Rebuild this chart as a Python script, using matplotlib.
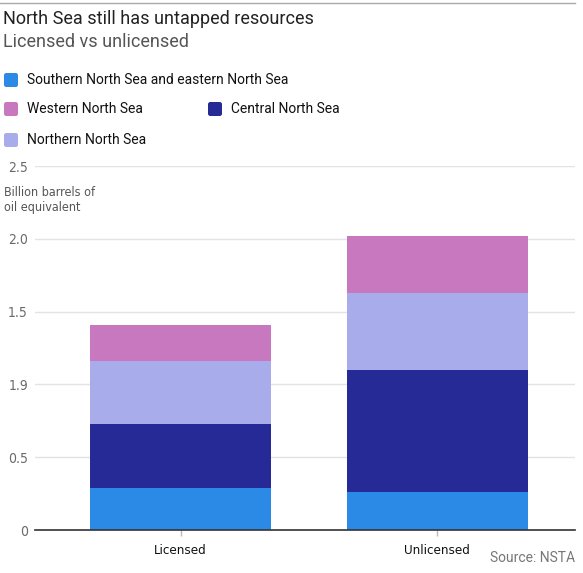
import matplotlib
matplotlib.use("Agg")
import matplotlib.pyplot as plt
from matplotlib.patches import FancyBboxPatch
import numpy as np

categories = ["Licensed", "Unlicensed"]
series_names = ["Southern North Sea and eastern North Sea", "Central North Sea",
                "Northern North Sea", "Western North Sea"]
southern = [0.29, 0.26]
central = [0.44, 0.84]
northern = [0.43, 0.53]
western = [0.25, 0.39]
series_values = [southern, central, northern, western]
colors = ["#2a8ae6", "#262a96", "#a8aceb", "#c878bf"]
ytick_values = [0, 0.5, 1.0, 1.5, 2.0, 2.5]
ytick_labels = ["0", "0.5", "1.9", "1.5", "2.0", "2.5"]

plt.rcParams['font.family'] = ['Roboto', 'DejaVu Sans']

W, H = 583, 573
fig = plt.figure(figsize=(W / 100, H / 100), dpi=100)

def fx(px):
    return px / W

def fy(py):
    return 1 - py / H

cond = dict(family=['DejaVu Sans'], fontstretch='condensed')

ax = fig.add_axes([fx(35), fy(530), fx(575) - fx(35), fy(166) - fy(530)])
x = np.arange(len(categories))
bottom = np.zeros(len(categories))
for vals, col in zip(series_values, colors):
    ax.bar(x, vals, width=0.707, bottom=bottom, color=col, zorder=3, linewidth=0)
    bottom += np.array(vals)

ax.set_ylim(0, 2.5)
ax.set_xlim(-0.568, 1.537)
ax.set_yticks(ytick_values)
ax.set_yticklabels(ytick_labels, fontsize=10, color="#6a6a6a", **cond)
ax.tick_params(axis='y', length=0, pad=5)
ax.set_xticks(x)
ax.set_xticklabels(categories, fontsize=9.5, color="#111111", **cond)
ax.tick_params(axis='x', length=4, color="#bbbbbb", width=1, pad=6)
ax.grid(axis='y', color="#e3e3e3", linewidth=1, zorder=0)
for s in ['top', 'right', 'left']:
    ax.spines[s].set_visible(False)
ax.spines['bottom'].set_color("#333333")
ax.spines['bottom'].set_linewidth(1.2)
ax.spines['bottom'].set_zorder(4)

# y-axis label
fig.text(fx(4), fy(200), "Billion barrels of\noil equivalent", fontsize=9, color="#555555",
         ha='left', va='center', linespacing=1.2, **cond)

# top rule
fig.add_artist(plt.Line2D([0, fx(575)], [fy(3), fy(3)], color="#aaaaaa", linewidth=1))

# titles
fig.text(fx(3), fy(19), "North Sea still has untapped resources", fontsize=13,
         color="#222222", ha='left', va='center')
fig.text(fx(3), fy(42), "Licensed vs unlicensed", fontsize=13,
         color="#555555", ha='left', va='center')

# legend (manual layout)
legend_pos = {
    "Southern North Sea and eastern North Sea": (4, 80),
    "Western North Sea": (4, 109),
    "Central North Sea": (208, 109),
    "Northern North Sea": (4, 140),
}
for name, col in zip(series_names, colors):
    lx, ly = legend_pos[name]
    box = FancyBboxPatch((fx(lx), fy(ly + 7)), fx(14), 14 / H,
                         boxstyle="round,pad=0,rounding_size=0.004",
                         transform=fig.transFigure, facecolor=col, edgecolor='none')
    fig.add_artist(box)
    fig.text(fx(lx + 23), fy(ly), name, fontsize=10, color="#111111",
             ha='left', va='center')

fig.text(fx(575), fy(558), "Source: NSTA", fontsize=10, color="#777777",
         ha='right', va='center')

fig.savefig("out.png", dpi=100)
